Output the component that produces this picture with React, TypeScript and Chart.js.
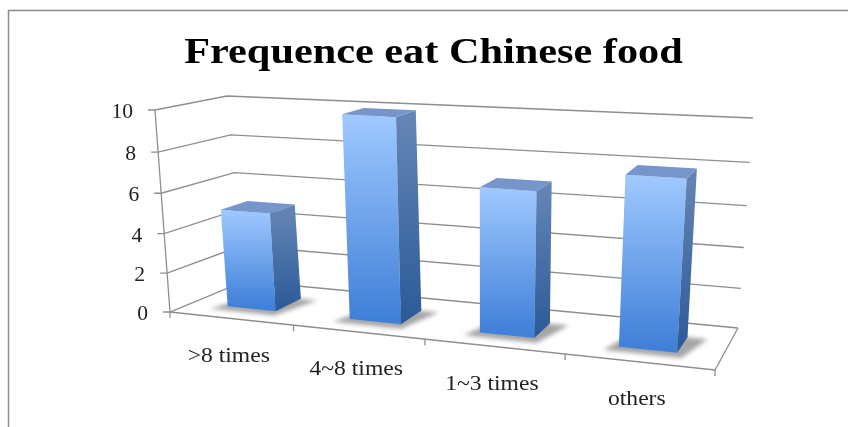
import { useEffect, useRef } from "react";
import { Chart, registerables } from "chart.js";

Chart.register(...registerables);

const chartTitle = "Frequence eat Chinese food";
const categories = [">8 times", "4~8 times", "1~3 times", "others"];
const frequency = [5, 10, 7, 8];
const yTicks = [0, 2, 4, 6, 8, 10];

type Pt = [number, number];

// Screen corners of the box's front and back planes: bottom-left, bottom-right, top-right, top-left.
const frontPlane: Pt[] = [[170, 312], [715, 370], [730, 142], [155, 110]];
const backPlane: Pt[] = [[245, 281], [738, 328], [753, 118], [227, 96]];
const barDepth: Pt = [0.3, 0.68];

// Unit square to quadrilateral homography.
function squareToQuad(q: Pt[]) {
  const [[x0, y0], [x1, y1], [x2, y2], [x3, y3]] = q;
  const dx1 = x1 - x2, dx2 = x3 - x2, sx = x0 - x1 + x2 - x3;
  const dy1 = y1 - y2, dy2 = y3 - y2, sy = y0 - y1 + y2 - y3;
  const det = dx1 * dy2 - dx2 * dy1;
  const g = (sx * dy2 - dx2 * sy) / det;
  const h = (dx1 * sy - sx * dy1) / det;
  const a = x1 - x0 + g * x1, b = x3 - x0 + h * x3, c = x0;
  const d = y1 - y0 + g * y1, e = y3 - y0 + h * y3, f = y0;
  return (u: number, v: number): Pt => {
    const k = g * u + h * v + 1;
    return [(a * u + b * v + c) / k, (d * u + e * v + f) / k];
  };
}

const front = squareToQuad(frontPlane);
const back = squareToQuad(backPlane);

function project(u: number, v: number, w: number): Pt {
  const p = front(u, v);
  const q = back(u, v);
  return [p[0] + (q[0] - p[0]) * w, p[1] + (q[1] - p[1]) * w];
}

function poly(ctx: CanvasRenderingContext2D, pts: Pt[]) {
  ctx.beginPath();
  pts.forEach((p, i) => (i ? ctx.lineTo(p[0], p[1]) : ctx.moveTo(p[0], p[1])));
}

function stroke(ctx: CanvasRenderingContext2D, pts: Pt[]) {
  poly(ctx, pts);
  ctx.stroke();
}

// Text stretched sideways around its anchor.
function wideText(ctx: CanvasRenderingContext2D, text: string, x: number, y: number, sx: number) {
  ctx.save();
  ctx.translate(x, y);
  ctx.scale(sx, 1);
  ctx.fillText(text, 0, 0);
  ctx.restore();
}

const perspectivePlugin = {
  id: "perspective",
  beforeDatasetDraw() {
    return false;
  },
  beforeDatasetsDraw(chart: any) {
    const { ctx, scales } = chart;
    const { x: xs, y: ys } = scales;
    const vOf = (val: number) => (ys.bottom - ys.getPixelForValue(val)) / (ys.bottom - ys.top);

    ctx.save();
    // Outer frame of the chart
    ctx.strokeStyle = "#8c8c8c";
    ctx.lineWidth = 1.5;
    stroke(ctx, [[8.5, 427], [8.5, 10.5], [848, 10.5]]);

    // Title
    ctx.fillStyle = "#000";
    ctx.font = "bold 36px 'Liberation Serif'";
    ctx.textAlign = "center";
    ctx.textBaseline = "alphabetic";
    wideText(ctx, chartTitle, 433.5, 63, 1.175);

    // Wall grid lines, y axis and its ticks
    ctx.strokeStyle = "#8e8e8e";
    ctx.lineWidth = 1.3;
    ys.ticks.forEach((t: any) => {
      const v = vOf(t.value);
      const a = project(0, v, 0);
      stroke(ctx, [[a[0] - 7, a[1]], a, project(0, v, 1), project(1, v, 1)]);
    });
    stroke(ctx, [project(0, 0, 0), project(0, 1, 0)]);

    // Floor edge and category ticks
    stroke(ctx, [project(0, 0, 0), project(1, 0, 0), project(1, 0, 1)]);
    xs.ticks.forEach((_: any, i: number) => {
      const p = project((i + 1) / categories.length, 0, 0);
      stroke(ctx, [p, [p[0], p[1] + 6]]);
    });
    const p0 = project(0, 0, 0);
    stroke(ctx, [p0, [p0[0], p0[1] + 6]]);

    // Tick labels
    ctx.fillStyle = "#222";
    ctx.font = "20px 'Liberation Serif'";
    ctx.textAlign = "right";
    ctx.textBaseline = "middle";
    ys.ticks.forEach((t: any) => {
      const a = project(0, vOf(t.value), 0);
      wideText(ctx, String(t.value), a[0] - 22, a[1] + 3, 1.08);
    });
    ctx.textAlign = "center";
    xs.ticks.forEach((t: any, i: number) => {
      const u = (xs.getPixelForTick(i) - xs.left) / (xs.right - xs.left);
      const p = project(u, 0, 0);
      wideText(ctx, categories[t.value ?? i], p[0] - 2, p[1] + 38, 1.18);
    });
    ctx.restore();
  },
  afterDatasetsDraw(chart: any) {
    const { ctx, chartArea } = chart;
    const meta = chart.getDatasetMeta(0);
    const uOf = (px: number) => (px - chartArea.left) / (chartArea.right - chartArea.left);
    const vOf = (py: number) => (chartArea.bottom - py) / (chartArea.bottom - chartArea.top);
    const [w0, w1] = barDepth;

    meta.data.forEach((el: any) => {
      const { x, y, base, width } = el.getProps(["x", "y", "base", "width"], true);
      const u0 = uOf(x - width / 2);
      const u1 = uOf(x + width / 2);
      const vb = vOf(base);
      const vt = vOf(y);

      // Soft floor shadow
      ctx.save();
      ctx.filter = "blur(2px)";
      ctx.fillStyle = "rgba(150,150,150,0.85)";
      poly(ctx, [
        project(u0 - 0.02, vb, w0 - 0.11),
        project(u1 + 0.012, vb, w0 - 0.11),
        project(u1 + 0.035, vb, w1),
        project(u0 + 0.005, vb, w1),
      ]);
      ctx.fill();
      ctx.restore();

      const fbl = project(u0, vb, w0), fbr = project(u1, vb, w0);
      const ftl = project(u0, vt, w0), ftr = project(u1, vt, w0);
      const bbr = project(u1, vb, w1), btr = project(u1, vt, w1), btl = project(u0, vt, w1);

      const faceFill = ctx.createLinearGradient(0, ftl[1], 0, fbl[1]);
      faceFill.addColorStop(0, "#a0c9ff");
      faceFill.addColorStop(1, "#4080d8");
      ctx.fillStyle = faceFill;
      poly(ctx, [ftl, ftr, fbr, fbl]);
      ctx.fill();

      const sideFill = ctx.createLinearGradient(0, btr[1], 0, fbr[1]);
      sideFill.addColorStop(0, "#6786b6");
      sideFill.addColorStop(1, "#2a5a98");
      ctx.fillStyle = sideFill;
      poly(ctx, [ftr, btr, bbr, fbr]);
      ctx.fill();

      ctx.fillStyle = "#7595cb";
      poly(ctx, [ftl, btl, btr, ftr]);
      ctx.fill();
    });
  },
};

export default function App() {
  const ref = useRef<HTMLCanvasElement>(null);
  useEffect(() => {
    const chart = new Chart(ref.current!, {
      type: "bar",
      data: {
        labels: categories,
        datasets: [{ label: "Frequency", data: frequency, categoryPercentage: 1, barPercentage: 0.4 }],
      },
      options: {
        responsive: false,
        animation: false,
        layout: { padding: { left: 152, right: 133, top: 111, bottom: 115 } },
        plugins: { legend: { display: false }, tooltip: { enabled: false }, title: { display: false } },
        scales: {
          x: { display: false },
          y: {
            display: false,
            min: 0,
            max: 10,
            afterBuildTicks: (axis: any) => {
              axis.ticks = yTicks.map((value) => ({ value }));
            },
          },
        },
      },
      plugins: [perspectivePlugin],
    });
    return () => chart.destroy();
  }, []);
  return (
    <div style={{ position: "fixed", left: 0, top: 0, width: 848, height: 427, background: "#fff" }}>
      <canvas ref={ref} width={848} height={427} style={{ display: "block" }} />
    </div>
  );
}
